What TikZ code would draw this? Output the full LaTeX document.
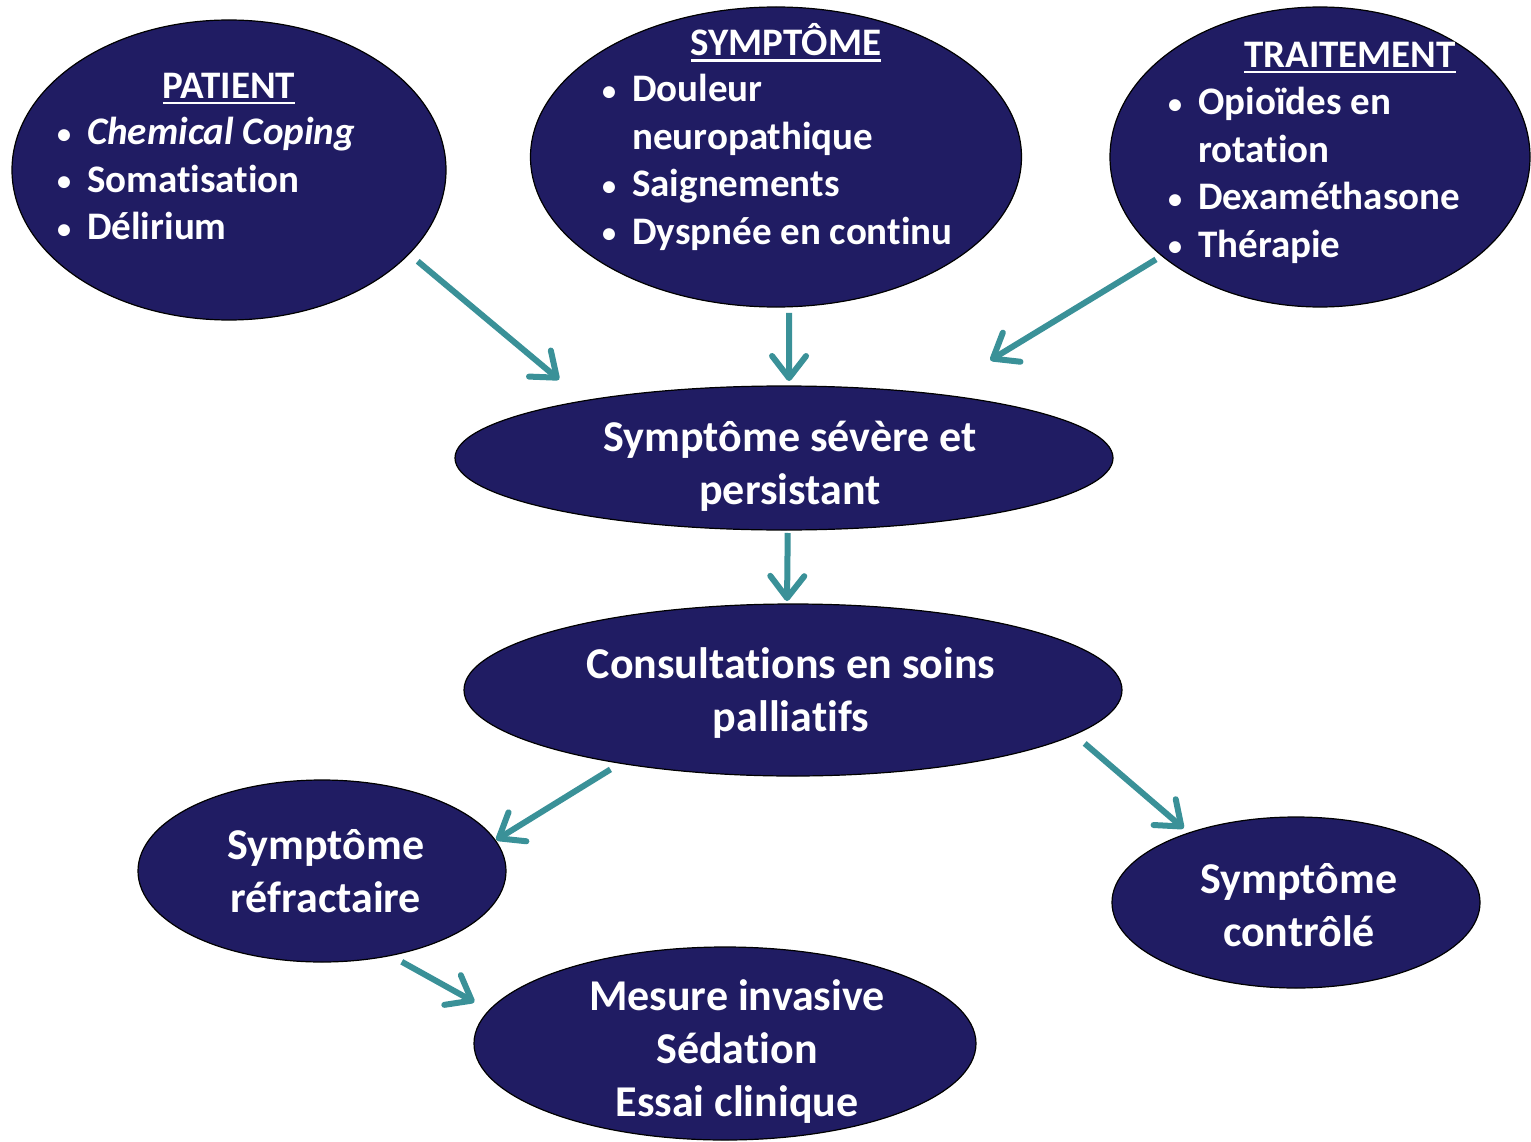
\documentclass[tikz,border=0pt]{standalone}
\usepackage{fontspec}
\usepackage{graphicx}
\setmainfont{Carlito}[Ligatures=NoCommon]
\usetikzlibrary{arrows.meta, shapes.geometric}

\definecolor{bubblefill}{RGB}{32,28,99}
\definecolor{arrowteal}{RGB}{58,145,152}

% bullet with a fixed hanging gap, underlined heading, stacked lines
\newcommand{\itembul}{\makebox[30pt][l]{\raisebox{1.5pt}{\scalebox{0.72}{\textbullet}}}}
\newcommand{\titleul}[1]{\vtop{\hbox{#1}\kern3pt\hrule height 2.5pt}}
\newcommand{\leftlines}[1]{\begin{tabular}[t]{@{}l@{}}#1\end{tabular}}
\newcommand{\biglines}[1]{\begin{tabular}[t]{@{}c@{}}#1\end{tabular}}

\begin{document}
\begin{tikzpicture}[
    x=1pt, y=-1pt,
    bubble/.style={ellipse, draw=black, line width=1.2pt, fill=bubblefill,
                   inner sep=0pt, outer sep=0pt},
    txt/.style={text=white, inner sep=0pt,
                font=\fontsize{39}{47.5}\selectfont\bfseries},
    bigtxt/.style={text=white, inner sep=0pt, anchor=base,
                   font=\fontsize{44}{53}\selectfont\bfseries},
    arr/.style={-{Straight Barb[length=22pt, width=34pt, round]},
                line width=6pt, draw=arrowteal}
  ]
  \useasboundingbox (0,0) rectangle (1531,1142);

  % top row: the three sources
  \node[bubble, minimum width=434pt, minimum height=300pt] (patient) at (229,170) {};
  \node[bubble, minimum width=491pt, minimum height=300pt] (symptome) at (776,157) {};
  \node[bubble, minimum width=420pt, minimum height=300pt] (traitement) at (1320,157) {};

  \node[txt, anchor=base] (patient-h) at (229,99) {\titleul{PATIENT}};
  \node[txt, anchor=base west] (patient-l) at (57,145)
    {\leftlines{\itembul\textit{Chemical Coping}\\ \itembul Somatisation\\ \itembul Délirium}};

  \node[txt, anchor=base] (symptome-h) at (786,56) {\titleul{SYMPTÔME}};
  \node[txt, anchor=base west] (symptome-l) at (602,102)
    {\leftlines{\itembul Douleur\\ \hspace*{30pt}neuropathique\\ \itembul Saignements\\
      \itembul Dyspnée en continu}};

  \node[txt, anchor=base] (traitement-h) at (1350,68) {\titleul{TRAITEMENT}};
  \node[txt, anchor=base west] (traitement-l) at (1168,115)
    {\leftlines{\itembul Opioïdes en\\ \hspace*{30pt}rotation\\ \itembul Dexaméthasone\\
      \itembul Thérapie}};

  % middle and bottom
  \node[bubble, minimum width=658pt, minimum height=144pt] (severe) at (784,458) {};
  \node[bigtxt] (severe-t) at (790,451) {\biglines{Symptôme sévère et\\ persistant}};

  \node[bubble, minimum width=658pt, minimum height=172pt] (consult) at (793,690) {};
  \node[bigtxt] (consult-t) at (791,678) {\biglines{Consultations en soins\\ palliatifs}};

  \node[bubble, minimum width=368pt, minimum height=182pt] (refract) at (322,871) {};
  \node[bigtxt] (refract-t) at (326,859) {\biglines{Symptôme\\ réfractaire}};

  \node[bubble, minimum width=368pt, minimum height=171pt] (control) at (1296,902.5) {};
  \node[bigtxt] (control-t) at (1299,893) {\biglines{Symptôme\\ contrôlé}};

  \node[bubble, minimum width=502pt, minimum height=193pt] (mesure) at (725,1043.5) {};
  \node[bigtxt] (mesure-t) at (737,1010) {\biglines{Mesure invasive\\ Sédation\\ Essai clinique}};

  % arrows
  \draw[arr, shorten <=11.5pt, shorten >=33pt] (patient.-25.7) -- (severe.164.2);
  \draw[arr, shorten <=6pt, shorten >=5pt] (symptome.-85.4) -- (severe.86.8);
  \draw[arr, shorten <=7pt, shorten >=65pt] (traitement.-148.25) -- (severe.23.04);
  \draw[arr, shorten <=3pt, shorten >=3pt] (severe.-87.6) -- (consult.94);
  \draw[arr, shorten <=11.8pt, shorten >=1pt] (consult.-157.56) -- (refract.10.16);
  \draw[arr, shorten <=13.6pt, shorten >=7pt] (consult.-9.82) -- (control.147.5);
  \draw[arr, shorten <=13pt, shorten >=17pt] (refract.-51.5) -- (mesure.172);
\end{tikzpicture}
\end{document}
